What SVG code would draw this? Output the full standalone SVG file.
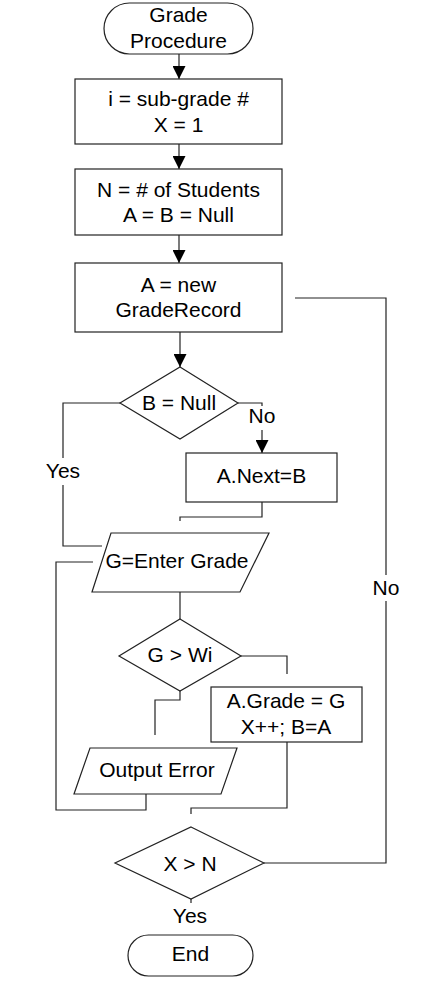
<svg xmlns="http://www.w3.org/2000/svg" width="445" height="981" viewBox="0 0 445 981">
<style>
.s{fill:#fff;stroke:#222;stroke-width:1.2}
.c{fill:none;stroke:#222;stroke-width:1.2}
text{font-family:"Liberation Sans",Arial,sans-serif;font-size:21px;fill:#000;text-anchor:middle}
</style>
<defs>
<marker id="ah" markerUnits="userSpaceOnUse" markerWidth="13" markerHeight="13" viewBox="0 0 13 13" refX="13" refY="6.5" orient="auto">
<path d="M0,0 L13,6.5 L0,13 z" fill="#000"/>
</marker>
</defs>
<rect width="445" height="981" fill="#fff"/>
<g id="connectors">
<path class="c" d="M179,54 V79" marker-end="url(#ah)"/>
<path class="c" d="M179,144 V169" marker-end="url(#ah)"/>
<path class="c" d="M179,235 V263" marker-end="url(#ah)"/>
<path class="c" d="M180,332 V367" marker-end="url(#ah)"/>
<path class="c" d="M238,403 H262 V406"/>
<path class="c" d="M262,430 V453" marker-end="url(#ah)"/>
<path class="c" d="M120,403 H63 V458 M63,485 V546 H102"/>
<path class="c" d="M262,502 V517 H180 V521"/>
<path class="c" d="M180,592 V619"/>
<path class="c" d="M241,656 H287 V674"/>
<path class="c" d="M180,691 V700 H155 V735"/>
<path class="c" d="M146,794 V810 H56 V562 H93"/>
<path class="c" d="M287,742 V808 H191 V814"/>
<path class="c" d="M264,863 H386 V601 M386,575 V298 H295"/>
<path class="c" d="M191,899 V903"/>
</g>
<g id="start"><rect class="s" x="104" y="3" width="149" height="51" rx="25.5"/><text x="178.5" y="22">Grade</text><text x="178.5" y="48">Procedure</text></g>
<g id="init"><rect class="s" x="75" y="79" width="207" height="65"/><text x="178.5" y="106">i = sub-grade #</text><text x="178.5" y="132">X = 1</text></g>
<g id="setup"><rect class="s" x="75" y="169" width="207" height="66"/><text x="178.5" y="197">N = # of Students</text><text x="178.5" y="222">A = B = Null</text></g>
<g id="newrec"><rect class="s" x="75" y="263" width="207" height="69"/><text x="178.5" y="292">A = new</text><text x="178.5" y="317">GradeRecord</text></g>
<g id="bnull"><polygon class="s" points="180,367 238,403 180,439 120,403"/><text x="179" y="410">B = Null</text></g>
<g id="lbl-no1"><text x="262" y="423">No</text></g>
<g id="lbl-yes1"><text x="63" y="478">Yes</text></g>
<g id="anext"><rect class="s" x="186" y="453" width="151" height="49"/><text x="261.5" y="483">A.Next=B</text></g>
<g id="enter"><polygon class="s" points="111,533 269,533 240,592 92,592"/><text x="177" y="568">G=Enter Grade</text></g>
<g id="gwi"><polygon class="s" points="180,619 241,656 180,691 119,656"/><text x="180" y="662">G &gt; Wi</text></g>
<g id="agrade"><rect class="s" x="211" y="687" width="151" height="55"/><text x="286" y="708">A.Grade = G</text><text x="286" y="734">X++; B=A</text></g>
<g id="outerr"><polygon class="s" points="90,748 237,748 221,794 74,794"/><text x="157" y="777">Output Error</text></g>
<g id="xn"><polygon class="s" points="191,827 264,863 191,899 115,863"/><text x="190" y="871">X &gt; N</text></g>
<g id="lbl-no2"><text x="386" y="595">No</text></g>
<g id="lbl-yes2"><text x="190" y="923">Yes</text></g>
<g id="end"><rect class="s" x="128" y="935" width="125" height="41" rx="20.5"/><text x="190.5" y="961">End</text></g>
</svg>
